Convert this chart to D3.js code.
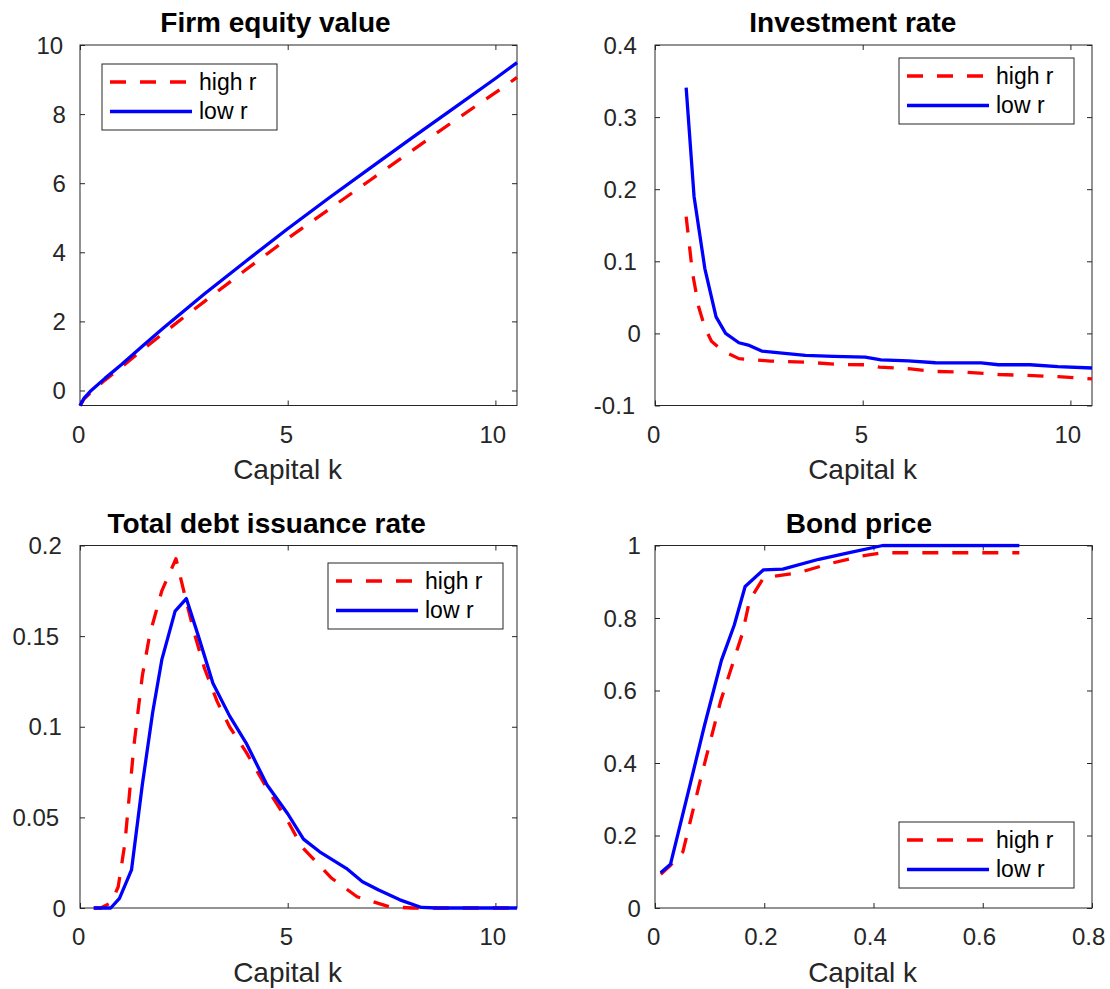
<!DOCTYPE html>
<html>
<head>
<meta charset="utf-8">
<script src="https://cdn.jsdelivr.net/npm/d3@7"></script>
<style>
  html, body { margin: 0; padding: 0; background: #fff; }
  svg { display: block; font-family: "Liberation Sans", Arial, Helvetica, sans-serif; }
</style>
</head>
<body>
<svg id="fig" width="1110" height="989"></svg>
<script>
// ---- data -------------------------------------------------------------
const seriesNames = ["high r", "low r"];

// Firm equity value
const kEqHigh = [0, 0.1, 0.3, 0.6, 1, 1.5, 2, 2.5, 3, 4, 5, 6, 7, 8, 9, 10, 10.52];
const eqHigh  = [-0.44, -0.24, -0.02, 0.3, 0.68, 1.17, 1.65, 2.12, 2.58, 3.5, 4.4, 5.25, 6.1, 6.95, 7.8, 8.62, 9.06];
const kEqLow  = [0, 0.1, 0.27, 0.6, 1, 1.5, 2, 2.5, 3, 4, 5, 6, 7, 8, 9, 10, 10.52];
const eqLow   = [-0.44, -0.22, 0, 0.35, 0.75, 1.28, 1.8, 2.3, 2.8, 3.75, 4.68, 5.58, 6.45, 7.32, 8.17, 9.03, 9.49];

// Investment rate
const kInvHigh = [0.75, 0.9, 1.05, 1.2, 1.36, 1.64, 2.02, 2.78, 3.62, 4.39, 5.06, 5.4, 6.1, 6.75, 7.43, 8.27, 8.95, 9.7, 10.52];
const invHigh  = [0.162, 0.085, 0.037, 0.008, -0.011, -0.0245, -0.035, -0.0384, -0.0398, -0.043, -0.0435, -0.0468, -0.049, -0.0528, -0.0537, -0.057, -0.0583, -0.06, -0.063];
const kInvLow  = [0.75, 0.94, 1.2, 1.47, 1.7, 2.02, 2.27, 2.57, 3.0, 3.62, 4.3, 5.06, 5.44, 6.1, 6.75, 7.85, 8.27, 9.03, 9.7, 10.52];
const invLow   = [0.341, 0.19, 0.09, 0.023, 0.0, -0.013, -0.0167, -0.0245, -0.027, -0.0306, -0.032, -0.033, -0.0366, -0.038, -0.0407, -0.041, -0.0435, -0.0435, -0.046, -0.048];

// Total debt issuance rate
const kDebtHigh = [0.33, 0.5, 0.75, 0.92, 1.08, 1.3, 1.5, 1.68, 1.97, 2.31, 2.55, 2.76, 3.0, 3.3, 3.6, 4.0, 4.5, 5.0, 5.34, 6.06, 6.67, 7.44, 8.0, 10.52];
const debtHigh  = [0, 0, 0.003, 0.0117, 0.0356, 0.09, 0.128, 0.151, 0.175, 0.1927, 0.17, 0.151, 0.132, 0.114, 0.1, 0.086, 0.066, 0.048, 0.0338, 0.0164, 0.0062, 0.0007, 0, 0];
const kDebtLow  = [0.33, 0.74, 0.95, 1.24, 1.5, 1.75, 1.97, 2.29, 2.56, 2.85, 3.2, 3.6, 4.0, 4.5, 5.0, 5.38, 5.77, 6.41, 6.8, 7.19, 7.7, 8.22, 8.6, 10.52];
const debtLow   = [0, 0, 0.0053, 0.021, 0.068, 0.108, 0.137, 0.1638, 0.1707, 0.15, 0.124, 0.106, 0.091, 0.068, 0.052, 0.038, 0.031, 0.0219, 0.0145, 0.0099, 0.0045, 0.0003, 0, 0];

// Bond price
const kBondHigh = [0.0105, 0.0284, 0.051, 0.083, 0.12, 0.16, 0.173, 0.1987, 0.263, 0.32, 0.378, 0.417, 0.667];
const bondHigh  = [0.093, 0.118, 0.155, 0.353, 0.57, 0.757, 0.848, 0.911, 0.925, 0.95, 0.971, 0.98, 0.98];
const kBondLow  = [0.0105, 0.0284, 0.065, 0.09, 0.1216, 0.145, 0.165, 0.1987, 0.234, 0.3, 0.36, 0.417, 0.667];
const bondLow   = [0.097, 0.121, 0.345, 0.5, 0.683, 0.78, 0.887, 0.933, 0.935, 0.962, 0.982, 1.0, 1.0];

// axis ranges and tick values
const xTicksK    = [0, 5, 10];
const xTicksBond = [0, 0.2, 0.4, 0.6, 0.8];
const yTicksEq   = [0, 2, 4, 6, 8, 10];
const yTicksInv  = [-0.1, 0, 0.1, 0.2, 0.3, 0.4];
const yTicksDebt = [0, 0.05, 0.1, 0.15, 0.2];
const yTicksBond = [0, 0.2, 0.4, 0.6, 0.8, 1];

const titles = ["Firm equity value", "Investment rate", "Total debt issuance rate", "Bond price"];
const xLabel = "Capital k";

// ---- layout -----------------------------------------------------------
const panels = [
  { title: titles[0], box: {x: 80,  y: 45,    w: 437, h: 360.5}, xDom: [0, 10.52], yDom: [-0.435, 10], xt: xTicksK, yt: yTicksEq,
    high: [kEqHigh, eqHigh], low: [kEqLow, eqLow], legend: {x: 102, y: 64} },
  { title: titles[1], box: {x: 655, y: 45,    w: 437, h: 360.5}, xDom: [0, 10.52], yDom: [-0.1, 0.4], xt: xTicksK, yt: yTicksInv,
    high: [kInvHigh, invHigh], low: [kInvLow, invLow], legend: {x: 899, y: 58} },
  { title: titles[2], box: {x: 80,  y: 545.5, w: 437, h: 362.5}, xDom: [0, 10.52], yDom: [0, 0.2], xt: xTicksK, yt: yTicksDebt,
    high: [kDebtHigh, debtHigh], low: [kDebtLow, debtLow], legend: {x: 328, y: 563} },
  { title: titles[3], box: {x: 655, y: 545.5, w: 437, h: 362.5}, xDom: [0, 0.8], yDom: [0, 1], xt: xTicksBond, yt: yTicksBond,
    high: [kBondHigh, bondHigh], low: [kBondLow, bondLow], legend: {x: 899, y: 822} }
];

const axisColor = "#262626";
const styles = {
  "high r": { color: "#ff0000", dash: "16,14" },
  "low r":  { color: "#0000ff", dash: null }
};
const lineW = 3.3;

const svg = d3.select("#fig");

// tick label text drifts slightly left of its anchor, as in the exported figure
function shiftCentered(sel) {
  sel.each(function () {
    const t = d3.select(this);
    const len = this.getComputedTextLength();
    t.attr("x", +t.attr("x") - 0.1 * len);
  });
}
function shiftRight(sel) {
  sel.each(function () {
    const t = d3.select(this);
    const len = this.getComputedTextLength();
    t.attr("x", +t.attr("x") - 0.2 * len);
  });
}

panels.forEach((p, i) => {
  const b = p.box;
  const x = d3.scaleLinear().domain(p.xDom).range([b.x, b.x + b.w]);
  const y = d3.scaleLinear().domain(p.yDom).range([b.y + b.h, b.y]);
  const g = svg.append("g");

  // axes frame
  g.append("rect").attr("x", b.x).attr("y", b.y).attr("width", b.w).attr("height", b.h)
    .attr("fill", "#fff").attr("stroke", axisColor).attr("stroke-width", 1);

  // inward ticks on all four sides via d3 axes
  const tl = 5;
  const fmt = d => String(+d.toFixed(3));
  g.append("g").attr("transform", `translate(0,${b.y + b.h})`)
    .call(d3.axisBottom(x).tickValues(p.xt).tickSize(-tl).tickFormat(""))
    .call(a => a.select(".domain").remove());
  g.append("g").attr("transform", `translate(0,${b.y})`)
    .call(d3.axisTop(x).tickValues(p.xt).tickSize(-tl).tickFormat(""))
    .call(a => a.select(".domain").remove());
  g.append("g").attr("transform", `translate(${b.x},0)`)
    .call(d3.axisLeft(y).tickValues(p.yt).tickSize(-tl).tickFormat(""))
    .call(a => a.select(".domain").remove());
  g.append("g").attr("transform", `translate(${b.x + b.w},0)`)
    .call(d3.axisRight(y).tickValues(p.yt).tickSize(-tl).tickFormat(""))
    .call(a => a.select(".domain").remove());
  g.selectAll(".tick line").attr("stroke", axisColor).attr("stroke-width", 1);

  // tick labels
  g.append("g").selectAll("text").data(p.xt).join("text")
    .attr("x", d => x(d)).attr("y", b.y + b.h + 37)
    .attr("text-anchor", "middle").attr("font-size", 24).attr("fill", axisColor)
    .text(fmt).call(shiftCentered);
  g.append("g").selectAll("text").data(p.yt).join("text")
    .attr("x", b.x - 11.5).attr("y", d => y(d) + 8.6)
    .attr("text-anchor", "end").attr("font-size", 24).attr("fill", axisColor)
    .text(fmt).call(shiftRight);

  // x label and title
  g.append("text").attr("x", b.x + b.w / 2).attr("y", b.y + b.h + 73.5)
    .attr("text-anchor", "middle").attr("font-size", 28).attr("fill", axisColor)
    .text(xLabel).call(shiftCentered);
  g.append("text").attr("x", b.x + b.w / 2).attr("y", b.y - 13)
    .attr("text-anchor", "middle").attr("font-size", 28).attr("font-weight", "bold").attr("fill", "#000")
    .text(p.title).call(shiftCentered);

  // data lines, clipped to the axes
  const clipId = "clip" + i;
  svg.append("clipPath").attr("id", clipId).append("rect")
    .attr("x", b.x - 2).attr("y", b.y - 2).attr("width", b.w + 4).attr("height", b.h + 4);
  const line = d3.line().x(d => x(d[0])).y(d => y(d[1]));
  const series = [
    { name: seriesNames[0], k: p.high[0], v: p.high[1] },
    { name: seriesNames[1], k: p.low[0],  v: p.low[1] }
  ];
  series.forEach(s => {
    const st = styles[s.name];
    g.append("path").datum(s.k.map((k, j) => [k, s.v[j]]))
      .attr("clip-path", `url(#${clipId})`)
      .attr("d", line).attr("fill", "none")
      .attr("stroke", st.color).attr("stroke-width", lineW)
      .attr("stroke-linejoin", "round")
      .attr("stroke-dasharray", st.dash);
  });

  // legend
  const L = p.legend;
  const lg = g.append("g");
  lg.append("rect").attr("x", L.x).attr("y", L.y).attr("width", 175).attr("height", 66)
    .attr("fill", "#fff").attr("stroke", axisColor).attr("stroke-width", 1);
  series.forEach((s, j) => {
    const st = styles[s.name];
    const ry = L.y + 18 + j * 29.5;
    lg.append("line").attr("x1", L.x + 8).attr("x2", L.x + 90).attr("y1", ry).attr("y2", ry)
      .attr("stroke", st.color).attr("stroke-width", lineW).attr("stroke-dasharray", st.dash);
    lg.append("text").attr("x", L.x + 97).attr("y", ry + 7.8)
      .attr("font-size", 23).attr("fill", "#000").text(s.name);
  });
});
</script>
</body>
</html>
